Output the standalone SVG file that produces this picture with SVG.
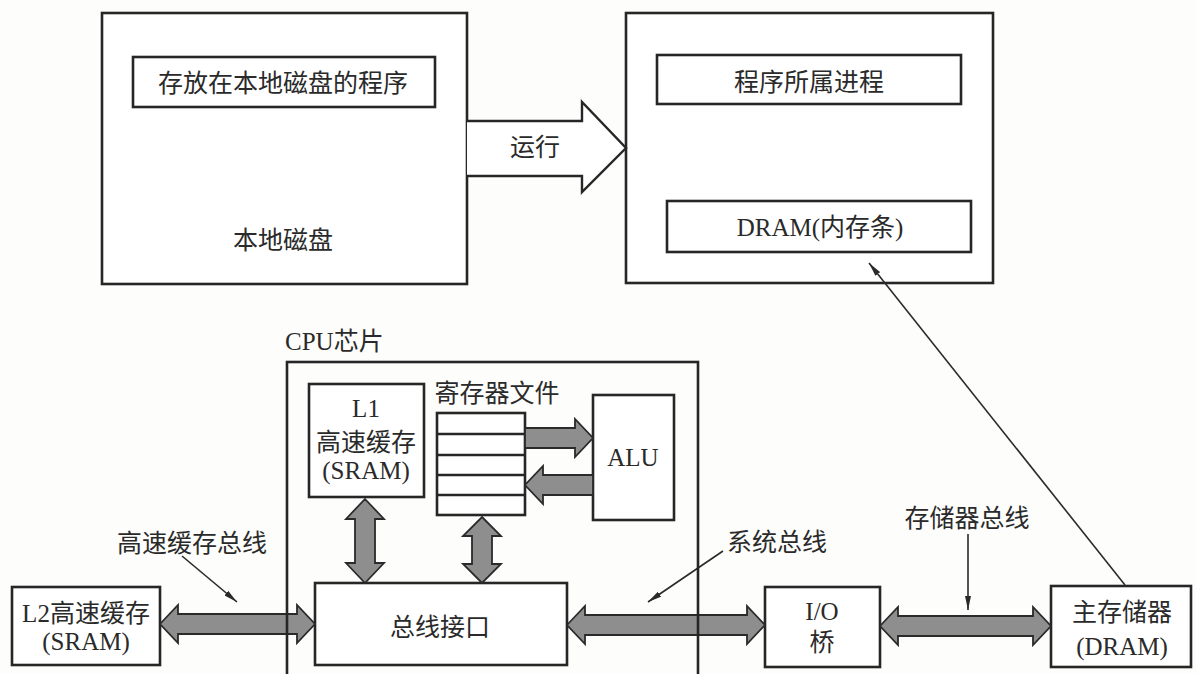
<svg xmlns="http://www.w3.org/2000/svg" width="1196" height="674" viewBox="0 0 1196 674">
<defs>
<style>
.box{fill:#fff;stroke:#262626;stroke-width:2.6}
.frame{fill:none;stroke:#262626;stroke-width:2.6}
.t{font-family:"Liberation Serif","Noto Sans CJK SC",serif;font-size:25px;fill:#2a2a2a;text-anchor:middle}
.tl{text-anchor:start}
.fat{fill:#8e8e8e;stroke:#2a2a2a;stroke-width:1.8;stroke-linejoin:miter}
.hollow{fill:#fff;stroke:#262626;stroke-width:2.4}
.ptr{fill:none;stroke:#2a2a2a;stroke-width:1.6}
.row{stroke:#262626;stroke-width:2.6}
</style>
<marker id="ah" viewBox="0 0 14 6" refX="14" refY="3" markerWidth="14" markerHeight="6" markerUnits="userSpaceOnUse" orient="auto">
<path d="M0,0 L14,3 L0,6 Z" fill="#2a2a2a"/>
</marker>
</defs>
<rect width="1196" height="674" fill="#fdfdfc"/>

<g id="local-disk">
<rect class="box" x="102" y="13" width="365" height="271"/>
<rect class="box" x="133" y="57" width="302" height="50"/>
<text class="t" x="283" y="92">存放在本地磁盘的程序</text>
<text class="t" x="283" y="249">本地磁盘</text>
</g>

<g id="process">
<rect class="box" x="626" y="13" width="367" height="270"/>
<rect class="box" x="657" y="55" width="304" height="49"/>
<text class="t" x="809" y="91">程序所属进程</text>
<rect class="box" x="667" y="201" width="304" height="51"/>
<text class="t" x="820" y="236">DRAM(内存条)</text>
</g>

<g id="l1">
<rect class="box" x="309" y="384" width="115" height="113"/>
<text class="t" x="366" y="417">L1</text>
<text class="t" x="366" y="451">高速缓存</text>
<text class="t" x="366" y="479">(SRAM)</text>
</g>

<g id="regfile">
<text class="t" x="497" y="402">寄存器文件</text>
<rect class="box" x="437" y="413" width="88" height="102"/>
<line class="row" x1="437" y1="434" x2="525" y2="434"/>
<line class="row" x1="437" y1="455" x2="525" y2="455"/>
<line class="row" x1="437" y1="475" x2="525" y2="475"/>
<line class="row" x1="437" y1="495" x2="525" y2="495"/>
</g>

<g id="alu">
<rect class="box" x="593" y="395" width="81" height="125"/>
<text class="t" x="633" y="466">ALU</text>
</g>

<g id="bus-interface">
<rect class="box" x="315" y="583" width="252" height="82"/>
<text class="t" x="440" y="636">总线接口</text>
</g>

<g id="l2">
<rect class="box" x="12" y="587" width="148" height="78"/>
<text class="t" x="86" y="622">L2高速缓存</text>
<text class="t" x="86" y="650">(SRAM)</text>
</g>

<g id="io-bridge">
<rect class="box" x="765" y="587" width="115" height="80"/>
<text class="t" x="822" y="620">I/O</text>
<text class="t" x="822" y="651">桥</text>
</g>

<g id="main-memory">
<rect class="box" x="1051" y="586" width="140" height="81"/>
<text class="t" x="1122" y="621">主存储器</text>
<text class="t" x="1122" y="655">(DRAM)</text>
</g>

<g id="connectors">
<path class="hollow" d="M467,121 H582 V102 L626,148 L582,192 V176 H467"/>
<text class="t" x="535" y="156">运行</text>

<path class="fat" d="M525,428 L575,428 L575,419 L593,438 L575,457 L575,448 L525,448 Z"/>
<path class="fat" d="M593,475 L543,475 L543,466 L525,485 L543,504 L543,495 L593,495 Z"/>
<path class="fat" d="M365,499 L384,519 L375,519 L375,563 L384,563 L365,583 L346,563 L355,563 L355,519 L346,519 Z"/>
<path class="fat" d="M482,517 L501,536 L492,536 L492,564 L501,564 L482,583 L463,564 L472,564 L472,536 L463,536 Z"/>
<path class="fat" d="M160,624 L178,605 L178,614 L297,614 L297,605 L315,624 L297,643 L297,634 L178,634 L178,643 Z"/>
<path class="fat" d="M567,625 L585,606 L585,615 L747,615 L747,606 L765,625 L747,644 L747,635 L585,635 L585,644 Z"/>
<path class="fat" d="M880,626 L898,607 L898,616 L1033,616 L1033,607 L1051,626 L1033,645 L1033,636 L898,636 L898,645 Z"/>

<text class="t" x="192" y="552">高速缓存总线</text>
<line class="ptr" x1="182" y1="556" x2="237" y2="602" marker-end="url(#ah)"/>
<text class="t" x="777" y="551">系统总线</text>
<line class="ptr" x1="723" y1="551" x2="648" y2="602" marker-end="url(#ah)"/>
<text class="t" x="967" y="527">存储器总线</text>
<line class="ptr" x1="968" y1="534" x2="968" y2="610" marker-end="url(#ah)"/>
<line class="ptr" x1="1125" y1="585" x2="869" y2="263" marker-end="url(#ah)"/>
</g>

<g id="cpu-chip">
<text class="t tl" x="285" y="350">CPU芯片</text>
<rect class="frame" x="287" y="362" width="411" height="340"/>
</g>
</svg>
